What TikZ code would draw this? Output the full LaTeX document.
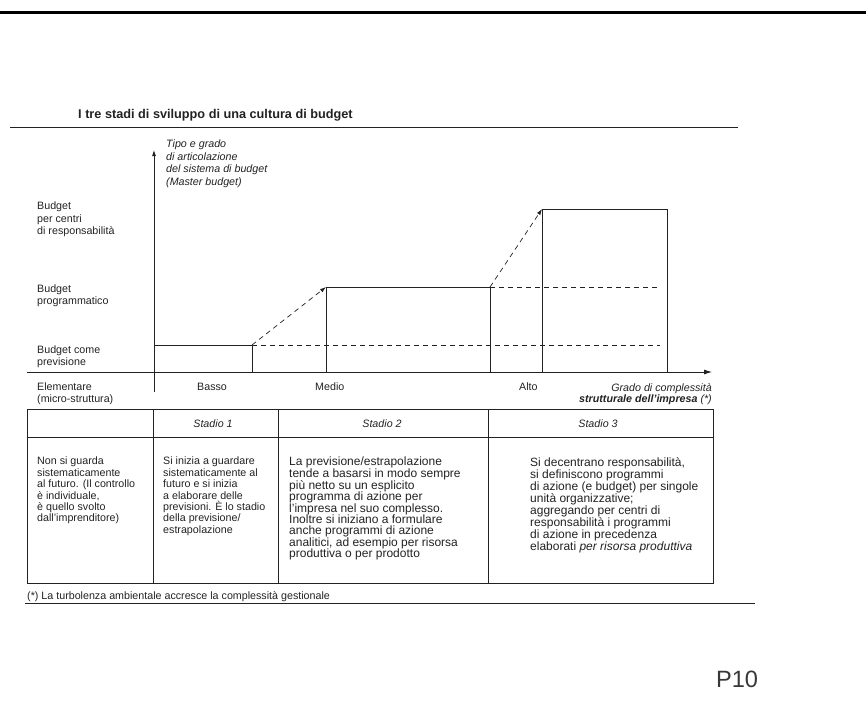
\documentclass[tikz,border=0pt]{standalone}
\usepackage{fontspec}
\setmainfont{Liberation Sans}
\usetikzlibrary{arrows.meta}

\definecolor{ink}{HTML}{222222}

\tikzset{
  txt/.style={anchor=north west,inner sep=0pt,align=left,text=ink,font=\fontsize{10.7}{11.8}\selectfont},
  celltxt/.style={txt,font=\fontsize{10.7}{11.4}\selectfont},
  bigcell/.style={txt,font=\fontsize{12}{11.3}\selectfont},
  stadiotxt/.style={inner sep=0pt,text=ink,font=\fontsize{10.7}{11.4}\selectfont\itshape},
  axis/.style={draw=ink,line width=0.8pt},
  stepline/.style={draw=ink,line width=0.8pt},
  levelline/.style={draw=ink,line width=0.9pt,dash pattern=on 5pt off 4pt},
  jump/.style={draw=ink,line width=0.7pt,dash pattern=on 5pt off 4pt,-{Latex[length=6pt,width=4pt]}},
  rule/.style={draw=ink,line width=0.9pt}
}

\begin{document}
\begin{tikzpicture}[x=1pt,y=-1pt]
\useasboundingbox (0,0) rectangle (866,720);

\draw[line width=3pt,black] (0,12) -- (866,12);
\node[txt,font=\fontsize{12.7}{14}\selectfont\bfseries] (titolo) at (78,109) {I tre stadi di sviluppo di una cultura di budget};
\draw[rule] (10,127) -- (738,127);

\coordinate (ybase) at (154,392);
\coordinate (ytip) at (154,150);
\coordinate (xbase) at (27,372);
\coordinate (xtip) at (712,372);
\draw[axis,-{Latex[length=6pt,width=4pt]}] (ybase) -- (ytip);
\draw[axis,-{Latex[length=8pt,width=5pt]}] (xbase) -- (xtip);

\node[txt,font=\fontsize{10.7}{12.4}\selectfont\itshape] (yasse) at (166,140) {Tipo e grado\\di articolazione\\del sistema di budget\\(Master budget)};
\node[txt,font=\fontsize{10.7}{12.4}\selectfont] (livello3) at (37,202) {Budget\\per centri\\di responsabilità};
\node[txt] (livello2) at (37,285) {Budget\\programmatico};
\node[txt] (livello1) at (37,346) {Budget come\\previsione};

\coordinate (s1l) at (154,345);
\coordinate (s1r) at (252,345);
\coordinate (s2l) at (326,287);
\coordinate (s2r) at (490,287);
\coordinate (s3l) at (542,209);
\coordinate (s3r) at (667,209);
\coordinate (fine1) at (660,345);
\coordinate (fine2) at (660,287);

\draw[stepline] (s1l) -- (s1r) -- (s1r |- xbase);
\draw[stepline] (s2l |- xbase) -- (s2l) -- (s2r) -- (s2r |- xbase);
\draw[stepline] (s3l |- xbase) -- (s3l) -- (s3r) -- (s3r |- xbase);
\draw[levelline] (s1r) -- (fine1);
\draw[levelline] (s2r) -- (fine2);
\draw[jump] (s1r) -- (s2l);
\draw[jump] (s2r) -- (s3l);

\node[txt] (elem) at (37,383) {Elementare\\(micro-struttura)};
\node[txt] (basso) at (197,383) {Basso};
\node[txt] (medio) at (315,383) {Medio};
\node[txt] (alto) at (519,383) {Alto};
\node[txt,anchor=north east,align=right,font=\fontsize{10.7}{11.2}\selectfont\itshape] (grado) at (712,383) {Grado di complessità\\\bfseries strutturale dell'impresa \mdseries(*)};

\draw[stepline] (27,409) rectangle (713,583);
\draw[stepline] (27,437) -- (713,437);
\foreach \cx in {153,278,488}
  \draw[stepline] (\cx,409) -- (\cx,583);

\node[stadiotxt] (stadio1) at (213,424) {Stadio 1};
\node[stadiotxt] (stadio2) at (382,424) {Stadio 2};
\node[stadiotxt] (stadio3) at (598,424) {Stadio 3};

\node[celltxt] (cella0) at (37,457) {Non si guarda\\sistematicamente\\al futuro. (Il controllo\\è individuale,\\è quello svolto\\dall'imprenditore)};
\node[celltxt] (cella1) at (163,457) {Si inizia a guardare\\sistematicamente al\\futuro e si inizia\\a elaborare delle\\previsioni. È lo stadio\\della previsione/\\estrapolazione};
\node[bigcell] (cella2) at (289,457) {La previsione/estrapolazione\\tende a basarsi in modo sempre\\più netto su un esplicito\\programma di azione per\\l'impresa nel suo complesso.\\Inoltre si iniziano a formulare\\anche programmi di azione\\analitici, ad esempio per risorsa\\produttiva o per prodotto};
\node[bigcell,font=\fontsize{12}{12}\selectfont] (cella3) at (530,457) {Si decentrano responsabilità,\\si definiscono programmi\\di azione (e budget) per singole\\unità organizzative;\\aggregando per centri di\\responsabilità i programmi\\di azione in precedenza\\elaborati \textit{per risorsa produttiva}};

\node[txt] (nota) at (27,591) {(*) La turbolenza ambientale accresce la complessità gestionale};
\draw[rule] (25,603) -- (755,603);

\node[inner sep=0pt,text=ink!90,font=\fontsize{23.6}{26}\selectfont] (pagina) at (737,679) {P10};
\end{tikzpicture}
\end{document}
